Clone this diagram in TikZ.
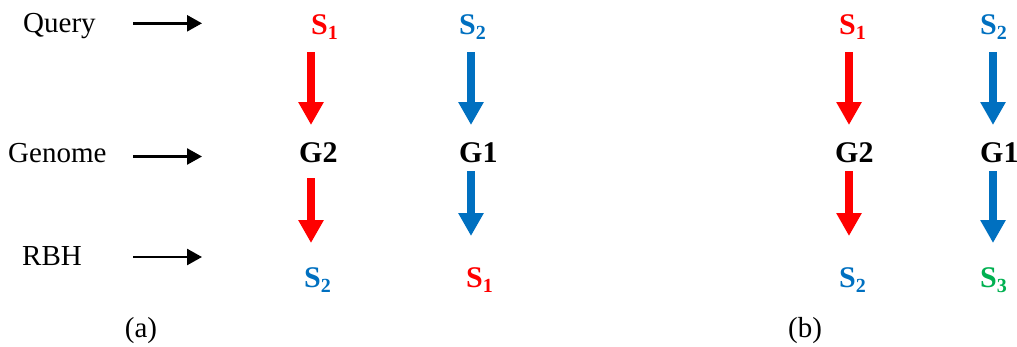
\documentclass[tikz,border=0pt]{standalone}
\usepackage{fontspec}
\setmainfont{Liberation Serif}
\usetikzlibrary{arrows.meta}
\definecolor{cred}{HTML}{FF0000}
\definecolor{cblue}{HTML}{0070C0}
\definecolor{cgreen}{HTML}{00B050}
\newcommand\mysub[1]{\raisebox{-5pt}{\fontsize{20}{20}\selectfont #1}}
\tikzset{
  lbl/.style={inner sep=0pt, anchor=base west, font=\fontsize{29}{32}\selectfont},
  sym/.style={inner sep=0pt, anchor=base west, font=\fontsize{30}{32}\selectfont\bfseries},
  fat/.style={line width=8.3pt, -{Triangle[width=24pt,length=23pt]}},
  thin/.style={line width=2.5pt, black, -{Triangle[width=16pt,length=15pt]}}
}
\begin{document}
\begin{tikzpicture}[x=1pt,y=-1pt]
\useasboundingbox (0,0) rectangle (1017,346);
% left labels
\node[lbl] (query) at (23,32) {Query};
\node[lbl] (genome) at (8,162) {Genome};
\node[lbl] (rbh) at (22,265) {RBH};
\coordinate (qa) at (133,23.3);  \coordinate (qb) at (202,23.3);
\coordinate (ga) at (133,156.5); \coordinate (gb) at (202,156.5);
\coordinate (ra) at (133,257); \coordinate (rb) at (202,257);
\draw[thin] (qa) -- (qb);
\draw[thin] (ga) -- (gb);
\draw[thin] (ra) -- (rb);
% panel (a)
\node[sym, text=cred]  (a1) at (311,34) {S\mysub{1}};
\node[sym, text=cblue] (a2) at (459,34) {S\mysub{2}};
\node[sym] (ag2) at (299,162) {G2};
\node[sym] (ag1) at (459,162) {G1};
\node[sym, text=cblue] (ab2) at (304,287) {S\mysub{2}};
\node[sym, text=cred]  (ab1) at (466,287) {S\mysub{1}};
\node[lbl, anchor=base] (capa) at (141,337) {(a)};
\coordinate (ar1s) at (311,52);  \coordinate (ar1e) at (311,125);
\coordinate (ab1s) at (471,52);  \coordinate (ab1e) at (471,125);
\coordinate (ar2s) at (311,178); \coordinate (ar2e) at (311,243);
\coordinate (ab2s) at (471,171); \coordinate (ab2e) at (471,236);
\draw[fat, cred]  (ar1s) -- (ar1e);
\draw[fat, cblue] (ab1s) -- (ab1e);
\draw[fat, cred]  (ar2s) -- (ar2e);
\draw[fat, cblue] (ab2s) -- (ab2e);
% panel (b)
\node[sym, text=cred]  (b1) at (839,34) {S\mysub{1}};
\node[sym, text=cblue] (b2) at (980,34) {S\mysub{2}};
\node[sym] (bg2) at (835,162) {G2};
\node[sym] (bg1) at (980,162) {G1};
\node[sym, text=cblue]  (bb2) at (839,287) {S\mysub{2}};
\node[sym, text=cgreen] (bb3) at (980,287) {S\mysub{3}};
\node[lbl, anchor=base] (capb) at (805,337) {(b)};
\coordinate (br1s) at (849,52);  \coordinate (br1e) at (849,125);
\coordinate (bb1s) at (993,52);  \coordinate (bb1e) at (993,125);
\coordinate (br2s) at (849,171); \coordinate (br2e) at (849,236);
\coordinate (bb2s) at (993,171); \coordinate (bb2e) at (993,243);
\draw[fat, cred]  (br1s) -- (br1e);
\draw[fat, cblue] (bb1s) -- (bb1e);
\draw[fat, cred]  (br2s) -- (br2e);
\draw[fat, cblue] (bb2s) -- (bb2e);
\end{tikzpicture}
\end{document}
